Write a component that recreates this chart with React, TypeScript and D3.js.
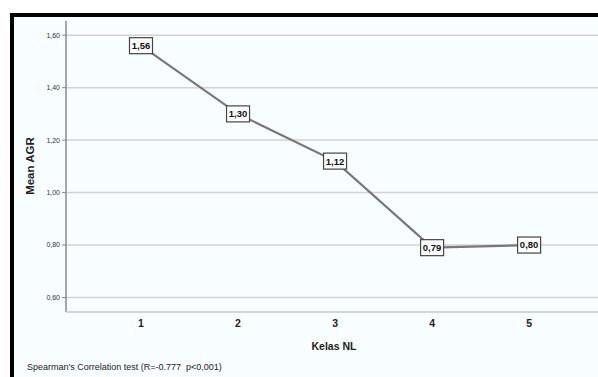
import React from "react";
import * as d3 from "d3";

const categories = [1, 2, 3, 4, 5];
const meanAGR = [1.56, 1.30, 1.12, 0.79, 0.80];
const valueLabels = ["1,56", "1,30", "1,12", "0,79", "0,80"];
const yTicks = [0.6, 0.8, 1.0, 1.2, 1.4, 1.6];
const yTickLabels = ["0,60", "0,80", "1,00", "1,20", "1,40", "1,60"];
const xTitle = "Kelas NL";
const yTitle = "Mean AGR";
const footnote = "Spearman's Correlation test (R=-0.777  p<0,001)";

const W = 598;
const H = 377;
const font = "'Liberation Sans', Arial, sans-serif";

export default function App() {
  const x = d3.scaleLinear().domain([0.227, 5.71]).range([66, 598]);
  const y = d3.scaleLinear().domain([0.6, 1.6]).range([297.5, 35.2]);
  const axisBottom = 312;
  const axisTop = 21;
  const line = d3
    .line<number>()
    .x((_, i) => x(categories[i]))
    .y((d) => y(d));

  return (
    <svg
      width={W}
      height={H}
      style={{ position: "absolute", left: 0, top: 0 }}
      fontFamily={font}
    >
      <rect x={0} y={0} width={W} height={H} fill="#ffffff" />
      <rect x={12} y={15} width={W - 12} height={H - 15} fill="#f8fdff" />
      {/* border */}
      <line x1={12} y1={15} x2={W} y2={15} stroke="#000" strokeWidth={4} />
      <line x1={12} y1={13} x2={12} y2={H} stroke="#000" strokeWidth={4} />

      {/* gridlines */}
      {yTicks.map((t, i) => (
        <g key={i}>
          <line x1={66} x2={W} y1={y(t)} y2={y(t)} stroke="#d2d2d2" strokeWidth={1.5} />
          <line x1={62} x2={66} y1={y(t)} y2={y(t)} stroke="#8a8a8a" strokeWidth={1} />
          <text
            x={60}
            y={y(t)}
            dy="0.35em"
            textAnchor="end"
            fontSize={7}
            fill="#333"
          >
            {yTickLabels[i]}
          </text>
        </g>
      ))}

      {/* axes */}
      <line x1={66} x2={66} y1={axisTop} y2={axisBottom} stroke="#8a8a8a" strokeWidth={1.5} />
      <line x1={66} x2={W} y1={axisBottom} y2={axisBottom} stroke="#c8c8c8" strokeWidth={1.5} />

      {categories.map((c, i) => (
        <text
          key={i}
          x={x(c)}
          y={327}
          textAnchor="middle"
          fontSize={10.5}
          fontWeight="bold"
          fill="#222"
        >
          {c}
        </text>
      ))}

      <text x={334} y={350} textAnchor="middle" fontSize={10.5} fontWeight="bold" fill="#222">
        {xTitle}
      </text>
      <text
        transform={`translate(34,166) rotate(-90)`}
        textAnchor="middle"
        fontSize={11.5}
        fontWeight="bold"
        fill="#222"
      >
        {yTitle}
      </text>

      <path
        d={line(meanAGR) || ""}
        fill="none"
        stroke="#777777"
        strokeWidth={2.2}
      />

      {meanAGR.map((v, i) => (
        <g key={i} transform={`translate(${x(categories[i])},${y(v)})`}>
          <rect x={-11.5} y={-8} width={23} height={16} fill="#fff" stroke="#444" strokeWidth={1.2} />
          <text textAnchor="middle" dy="0.36em" fontSize={9.5} fontWeight="bold" fill="#111">
            {valueLabels[i]}
          </text>
        </g>
      ))}

      <text x={27} y={370} fontSize={9} fill="#222" style={{ whiteSpace: "pre" }}>
        {footnote}
      </text>
    </svg>
  );
}
